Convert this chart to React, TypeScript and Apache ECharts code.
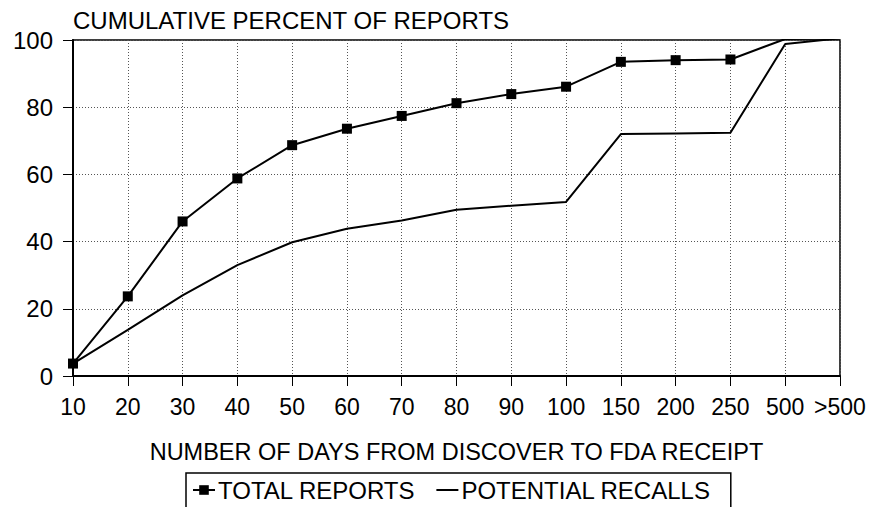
import React, { useEffect, useRef } from "react";
import * as echarts from "echarts";

const categories = ["10", "20", "30", "40", "50", "60", "70", "80", "90", "100", "150", "200", "250", "500", ">500"];
const totalReports = [3.7, 23.7, 46, 58.8, 68.7, 73.6, 77.4, 81.2, 83.9, 86.1, 93.5, 94, 94.2, 100.3, 100.5];
const potentialRecalls = [3.7, 13.7, 24, 33, 39.8, 43.8, 46.3, 49.5, 50.7, 51.8, 72, 72.2, 72.4, 98.8, 100.5];
const yTicks = { min: 0, max: 100, interval: 20 };

const FONT = "'Liberation Sans', Arial, Helvetica, sans-serif";

export default function App() {
  const ref = useRef<HTMLDivElement>(null);
  useEffect(() => {
    if (!ref.current) return;
    const chart = echarts.init(ref.current, null, { renderer: "svg" });
    const dotted = { color: "#555", width: 1, type: [1, 2] as any };
    chart.setOption({
      animation: false,
      backgroundColor: "#fff",
      textStyle: { fontFamily: FONT, color: "#000" },
      grid: {
        left: 73,
        right: 31,
        top: 40,
        bottom: 131,
        show: true,
        borderColor: "#000",
        borderWidth: 1.5,
        backgroundColor: "transparent",
      },
      legend: {
        left: 186,
        top: 473,
        orient: "horizontal",
        borderColor: "#000",
        borderWidth: 1.5,
        padding: [5, 20, 6, 6],
        itemWidth: 22,
        itemHeight: 12,
        itemGap: 20,
        textStyle: { fontFamily: FONT, fontSize: 24, color: "#000", padding: [0, 0, 0, -2] },
        data: [
          { name: "TOTAL REPORTS" },
          { name: "POTENTIAL RECALLS", itemStyle: { color: "transparent", borderWidth: 0, opacity: 0 } },
        ],
      },
      xAxis: {
        type: "category",
        data: categories,
        boundaryGap: false,
        name: "NUMBER OF DAYS FROM DISCOVER TO FDA RECEIPT",
        nameLocation: "middle",
        nameGap: 64,
        nameTextStyle: { fontFamily: FONT, fontSize: 23.5, color: "#000" },
        axisLine: { show: true, lineStyle: { color: "#000", width: 2 } },
        axisTick: { show: true, length: 10, lineStyle: { color: "#000", width: 1 } },
        axisLabel: { fontFamily: FONT, fontSize: 23, color: "#000", margin: 19, interval: 0 },
        splitLine: { show: true, lineStyle: dotted },
      },
      yAxis: {
        type: "value",
        min: yTicks.min,
        max: yTicks.max,
        interval: yTicks.interval,
        name: "CUMULATIVE PERCENT OF REPORTS",
        nameLocation: "end",
        nameGap: 20,
        nameTextStyle: { fontFamily: FONT, fontSize: 24, color: "#000", align: "left", verticalAlign: "middle" },
        axisLine: { show: true, lineStyle: { color: "#000", width: 2 } },
        axisTick: { show: true, length: 10, lineStyle: { color: "#000", width: 1 } },
        axisLabel: { fontFamily: FONT, fontSize: 24, color: "#000", margin: 20 },
        splitLine: { show: true, lineStyle: dotted },
      },
      series: [
        {
          name: "TOTAL REPORTS",
          type: "line",
          data: totalReports,
          symbol: "rect",
          symbolSize: 10,
          showSymbol: true,
          lineStyle: { color: "#000", width: 2 },
          itemStyle: { color: "#000" },
        },
        {
          name: "POTENTIAL RECALLS",
          type: "line",
          data: potentialRecalls,
          symbol: "none",
          lineStyle: { color: "#000", width: 2 },
          itemStyle: { color: "#000" },
        },
      ],
    });
    return () => chart.dispose();
  }, []);
  return (
    <div
      ref={ref}
      style={{ position: "absolute", left: 0, top: 0, width: 871, height: 507, background: "#fff" }}
    />
  );
}
